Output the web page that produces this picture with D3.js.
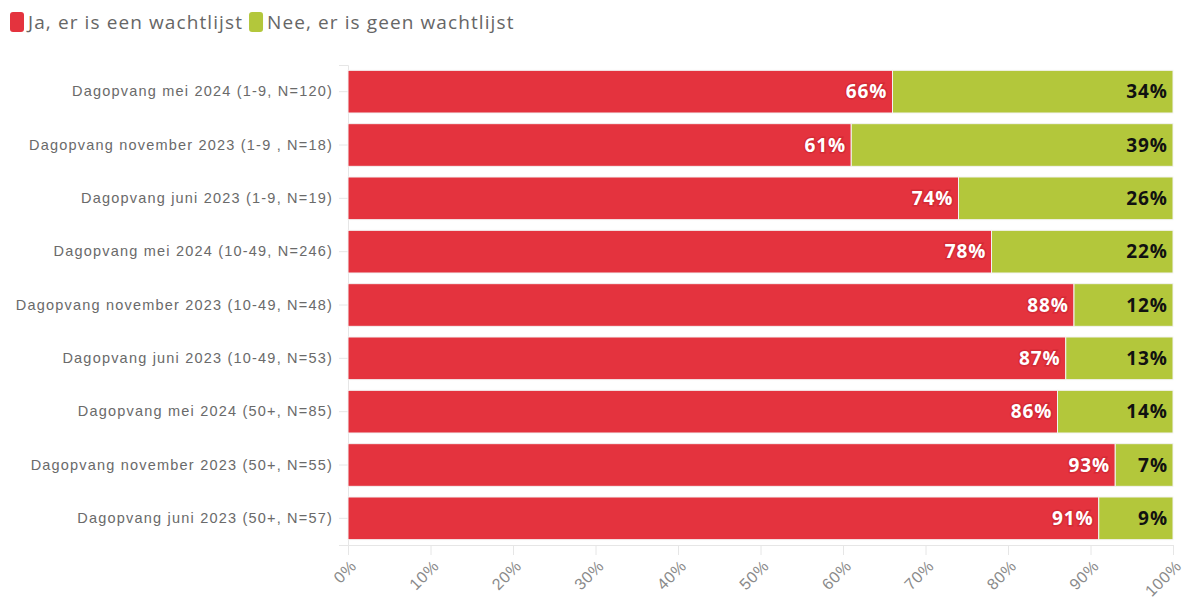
<!DOCTYPE html>
<html>
<head>
<meta charset="utf-8">
<script src="https://cdn.jsdelivr.net/npm/d3@7"></script>
<style>
  html, body { margin: 0; padding: 0; background: #fff; }
  svg { display: block; font-family: "Open Sans", "Lato", sans-serif; }
</style>
</head>
<body>
<svg id="chart" width="1184" height="602"></svg>
<script>
// Groups shown on the vertical axis, top to bottom
const categories = [
  "Dagopvang mei 2024 (1-9, N=120)",
  "Dagopvang november 2023 (1-9 , N=18)",
  "Dagopvang juni 2023 (1-9, N=19)",
  "Dagopvang mei 2024 (10-49, N=246)",
  "Dagopvang november 2023 (10-49, N=48)",
  "Dagopvang juni 2023 (10-49, N=53)",
  "Dagopvang mei 2024 (50+, N=85)",
  "Dagopvang november 2023 (50+, N=55)",
  "Dagopvang juni 2023 (50+, N=57)"
];
const seriesNames = ["Ja, er is een wachtlijst", "Nee, er is geen wachtlijst"];
const jaValues  = [66, 61, 74, 78, 88, 87, 86, 93, 91];
const neeValues = [34, 39, 26, 22, 12, 13, 14, 7, 9];
const tickValues = [0, 10, 20, 30, 40, 50, 60, 70, 80, 90, 100];

const colors = ["#e4333e", "#b3c73b"];

const svg = d3.select("#chart");
const margin = { left: 348, right: 11, top: 65, bottom: 57 };
const W = 1184, H = 602;

const x = d3.scaleLinear().domain([0, 100]).range([margin.left, W - margin.right]);
const y = d3.scaleBand().domain(categories)
  .range([margin.top, H - margin.bottom])
  .paddingInner(0.2).paddingOuter(0.1);

// Stack the two answers per group
const rows = categories.map((c, i) => ({ cat: c, ja: jaValues[i], nee: neeValues[i] }));
const stack = d3.stack().keys(["ja", "nee"])(rows);

// Axes
const xAxis = svg.append("g")
  .attr("transform", `translate(0,${H - margin.bottom})`)
  .call(d3.axisBottom(x).tickValues(tickValues).tickSize(10).tickFormat(d => d + "%"));
xAxis.select(".domain").attr("stroke", "#e6e6e6");
xAxis.selectAll(".tick line").attr("stroke", "#e6e6e6");
xAxis.selectAll(".tick text")
  .attr("fill", "#8a8a8a")
  .style("font-size", "16px")
  .style("letter-spacing", "0.6px")
  .attr("text-anchor", "end")
  .attr("x", 0).attr("y", 0).attr("dy", "0.35em")
  .attr("transform", "translate(5,18) rotate(-45)");

const yAxis = svg.append("g")
  .attr("transform", `translate(${margin.left},0)`)
  .call(d3.axisLeft(y).tickSize(9).tickPadding(6));
yAxis.select(".domain").attr("stroke", "#e6e6e6");
yAxis.selectAll(".tick line").attr("stroke", "#e6e6e6");
yAxis.selectAll(".tick text")
  .attr("fill", "#6a6a6a")
  .style("font-size", "14.5px")
  .style("letter-spacing", "1.2px");

// Bars
const layers = svg.append("g").selectAll("g")
  .data(stack).join("g")
  .attr("fill", (d, i) => colors[i]);

layers.selectAll("rect")
  .data(d => d).join("rect")
  .attr("x", d => x(d[0]))
  .attr("y", d => y(d.data.cat))
  .attr("width", d => x(d[1]) - x(d[0]))
  .attr("height", y.bandwidth())
  .attr("stroke", "#f3f3f3")
  .attr("stroke-width", 1);

// Value labels at the end of each segment
const labelColors = ["#ffffff", "#111111"];
const haloColors = ["#d42a35", "#b3c73b"];
stack.forEach((layer, li) => {
  svg.append("g").selectAll("text")
    .data(layer).join("text")
    .attr("x", d => x(d[1]) - 5)
    .attr("y", d => y(d.data.cat) + y.bandwidth() / 2)
    .attr("dy", "0.35em")
    .attr("text-anchor", "end")
    .attr("fill", labelColors[li])
    .attr("stroke", haloColors[li])
    .attr("stroke-width", 3)
    .attr("paint-order", "stroke")
    .style("font-size", "19px")
    .style("font-weight", "bold")
    .style("letter-spacing", "1px")
    .text(d => (d[1] - d[0]) + "%");
});

// Legend
const legend = svg.append("g").attr("transform", "translate(10,12)");
let lx = 0;
seriesNames.forEach((name, i) => {
  const g = legend.append("g").attr("transform", `translate(${lx},0)`);
  g.append("rect").attr("width", 14).attr("height", 20).attr("rx", 3).attr("fill", colors[i]);
  const t = g.append("text").attr("x", 18).attr("y", 10).attr("dy", "0.35em")
    .attr("fill", "#666").style("font-size", "19px").style("letter-spacing", "1.1px").text(name);
  lx += 18 + t.node().getComputedTextLength() + 6;
});
</script>
</body>
</html>
